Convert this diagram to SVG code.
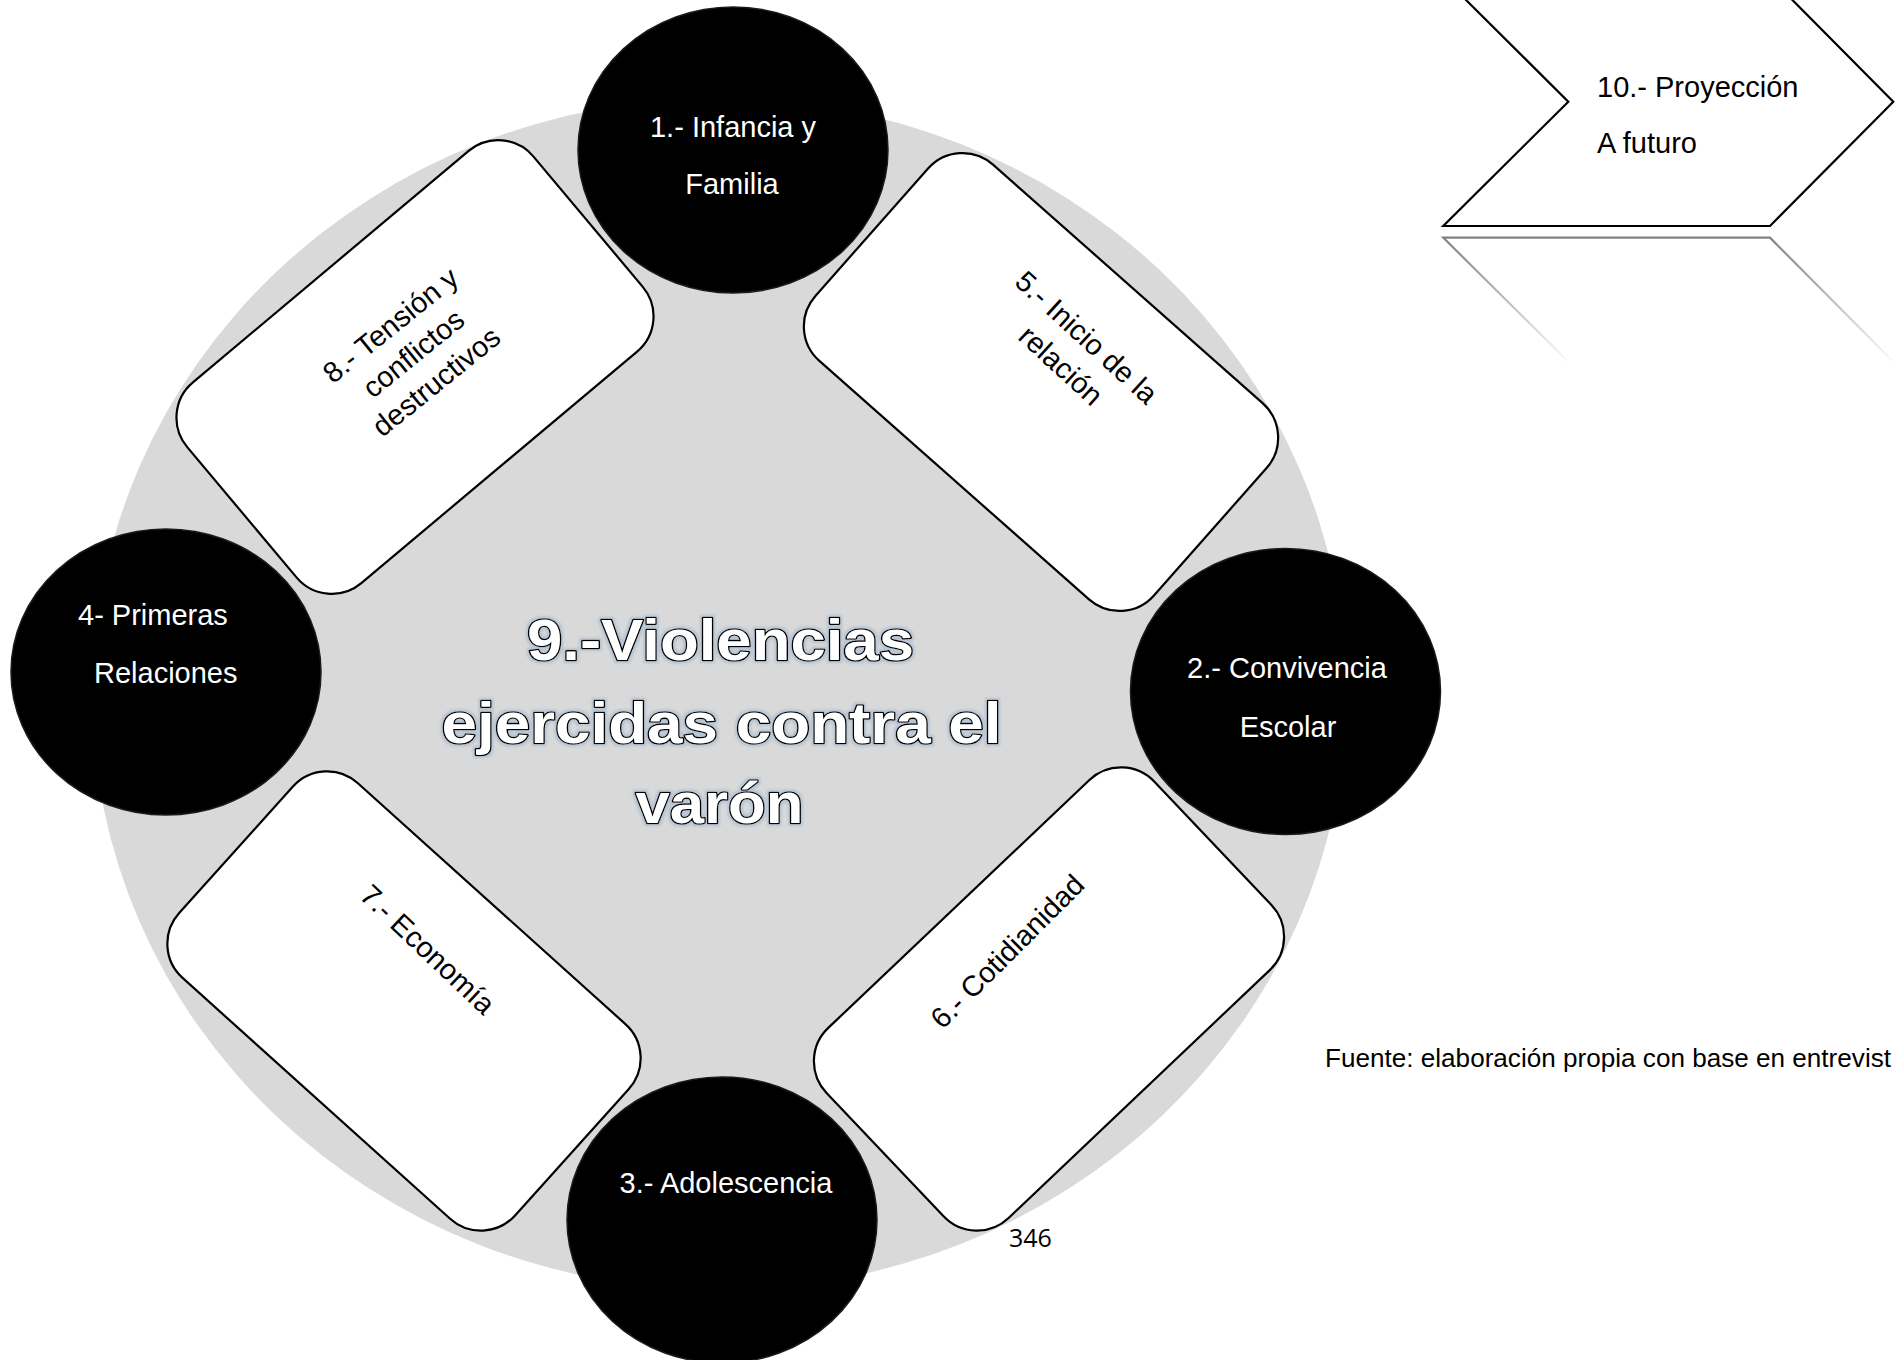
<svg xmlns="http://www.w3.org/2000/svg" width="1897" height="1360" viewBox="0 0 1897 1360">
<style>
.card{fill:#fff;stroke:#000;stroke-width:2.2}
.dot{fill:#000;stroke:#1a1a1a;stroke-width:1.5}
.wt{font-family:"Liberation Sans",Arial,sans-serif;font-size:29px;fill:#fff}
.bt{font-family:"Liberation Sans",Arial,sans-serif;font-size:29px;fill:#000}
.title{font-family:"Liberation Sans",Arial,sans-serif;font-weight:bold;font-size:58px;fill:#fff;stroke:#000;stroke-width:2.6;paint-order:stroke;stroke-linejoin:round}
</style>
<defs>
<linearGradient id="refl" gradientUnits="userSpaceOnUse" x1="0" y1="236" x2="0" y2="366">
<stop offset="0" stop-color="#7f7f7f" stop-opacity="1"/>
<stop offset="1" stop-color="#7f7f7f" stop-opacity="0"/>
</linearGradient>
<filter id="glow" x="-10%" y="-20%" width="120%" height="140%">
<feMorphology in="SourceAlpha" operator="dilate" radius="2" result="d"/>
<feGaussianBlur in="d" stdDeviation="1" result="b"/>
<feFlood flood-color="#9fb5cc" flood-opacity="0.55"/>
<feComposite in2="b" operator="in" result="g"/>
<feMerge><feMergeNode in="g"/><feMergeNode in="SourceGraphic"/></feMerge>
</filter>
</defs>
<rect width="1897" height="1360" fill="#fff"/>
<g id="background">
<ellipse cx="719" cy="694" rx="627" ry="596" fill="#d9d9d9"/>
</g>
<g id="node8">
<g transform="translate(415,367) rotate(-40)"><rect class="card" x="-226" y="-131" width="452" height="262" rx="46"/></g>
<g transform="translate(413,353) rotate(-39)">
<text class="bt" text-anchor="middle"><tspan x="0" y="-25.8">8.- Tensión y</tspan><tspan x="0" y="10.5">conflictos</tspan><tspan x="0" y="46.8">destructivos</tspan></text>
</g>
</g>
<g id="node5">
<g transform="translate(1041,382) rotate(41.5)"><rect class="card" x="-226" y="-131" width="452" height="262" rx="46"/></g>
<g transform="translate(1087,337) rotate(42.5)">
<text class="bt" text-anchor="middle"><tspan x="0" y="10.5">5.- Inicio de la</tspan><tspan x="0" y="48.5">relación</tspan></text>
</g>
</g>
<g id="node7">
<g transform="translate(404,1001) rotate(42)"><rect class="card" x="-226" y="-131" width="452" height="262" rx="46"/></g>
<g transform="translate(428,949) rotate(43.5)"><text class="bt" text-anchor="middle" x="0" y="10.5">7.- Economía</text></g>
</g>
<g id="node6">
<g transform="translate(1049,999) rotate(-43.5)"><rect class="card" x="-226" y="-131" width="452" height="262" rx="46"/></g>
<g transform="translate(1007,951) rotate(-45)"><text class="bt" text-anchor="middle" x="0" y="10.5">6.- Cotidianidad</text></g>
</g>
<g id="node1">
<ellipse class="dot" cx="733" cy="150" rx="155" ry="143"/>
<text class="wt" text-anchor="middle"><tspan x="733" y="137">1.- Infancia y</tspan><tspan x="732" y="194">Familia</tspan></text>
</g>
<g id="node4">
<ellipse class="dot" cx="166" cy="672" rx="155" ry="143"/>
<text class="wt"><tspan x="78" y="625">4- Primeras</tspan><tspan x="94" y="683">Relaciones</tspan></text>
</g>
<g id="node2">
<ellipse class="dot" cx="1285.5" cy="691.5" rx="155" ry="143"/>
<text class="wt" text-anchor="middle"><tspan x="1287" y="678">2.- Convivencia</tspan><tspan x="1288" y="737">Escolar</tspan></text>
</g>
<g id="node3">
<ellipse class="dot" cx="722" cy="1220" rx="155" ry="143"/>
<text class="wt" text-anchor="middle" x="726" y="1193">3.- Adolescencia</text>
</g>
<g id="node9" filter="url(#glow)">
<text class="title" text-anchor="middle" x="720.5" y="660" textLength="387" lengthAdjust="spacingAndGlyphs">9.-Violencias</text>
<text class="title" text-anchor="middle" x="721.5" y="743" textLength="560" lengthAdjust="spacingAndGlyphs">ejercidas contra el</text>
<text class="title" text-anchor="middle" x="719.5" y="823" textLength="168" lengthAdjust="spacingAndGlyphs">varón</text>
</g>
<g id="node10">
<path d="M1443.3,-22.6 L1770,-22.6 L1893.3,101.7 L1770,226 L1443.3,226 L1568.3,101.7 Z" fill="#fff" stroke="#000" stroke-width="2.2" stroke-linejoin="miter"/>
<path d="M1568.3,361.7 L1443.3,237.7 L1770,237.7 L1893.3,361.7" fill="none" stroke="url(#refl)" stroke-width="2.2"/>
<text class="bt"><tspan x="1597" y="97">10.- Proyección</tspan><tspan x="1597" y="153">A futuro</tspan></text>
</g>
<g id="source">
<text font-family="'Liberation Sans',Arial,sans-serif" font-size="26" fill="#000" x="1325" y="1067" textLength="566" lengthAdjust="spacingAndGlyphs">Fuente: elaboración propia con base en entrevist</text>
</g>
<g id="page">
<text font-family="'Open Sans','Noto Sans',sans-serif" font-size="25" fill="#000" x="1009" y="1247">346</text>
</g>
</svg>
